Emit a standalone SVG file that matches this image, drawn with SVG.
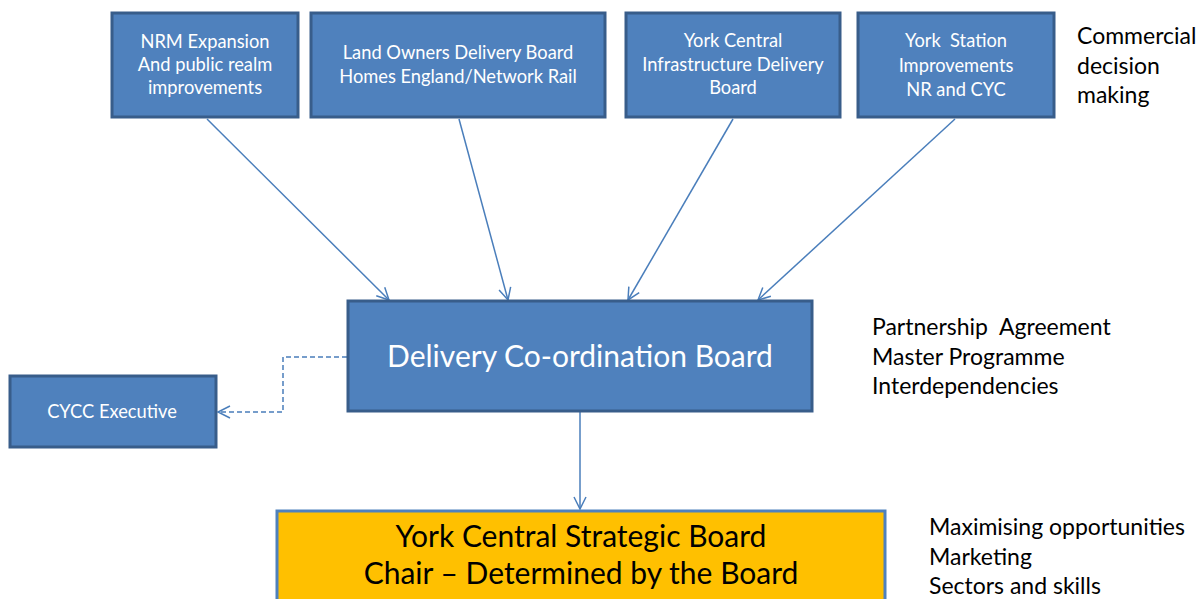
<svg xmlns="http://www.w3.org/2000/svg" width="1203" height="599" viewBox="0 0 1203 599">
<defs>
<style>
.box{fill:#4F81BD;stroke:#385D8A;stroke-width:3}
.gold{fill:#FFC000;stroke:#4F81BD;stroke-width:3}
.wt{fill:#FFFFFF;font-family:Lato,"Open Sans","Liberation Sans",sans-serif;text-anchor:middle}
.bt{fill:#000000;font-family:Lato,"Open Sans","Liberation Sans",sans-serif}
.s17{font-size:18.3px}
.s28{font-size:30px}
.side{font-size:23px}
.con{fill:none;stroke:#4A7EBB;stroke-width:1.5}
.dash{stroke-dasharray:5,3}
</style>
<marker id="arr" markerWidth="16" markerHeight="16" refX="14" refY="8" orient="auto" markerUnits="userSpaceOnUse">
<path d="M2,2 L14,8 L2,14" fill="none" stroke="#4A7EBB" stroke-width="1.5"/>
</marker>
</defs>
<rect width="1203" height="599" fill="#FFFFFF"/>
<g id="connectors">
<line class="con" x1="207" y1="119" x2="389" y2="300" marker-end="url(#arr)"/>
<line class="con" x1="459" y1="119" x2="508" y2="300" marker-end="url(#arr)"/>
<line class="con" x1="733" y1="119" x2="628" y2="300" marker-end="url(#arr)"/>
<line class="con" x1="955" y1="119" x2="758" y2="300" marker-end="url(#arr)"/>
<line class="con" x1="580" y1="412" x2="580" y2="509" marker-end="url(#arr)"/>
<polyline class="con dash" points="347,357 283,357 283,412 218,412" marker-end="url(#arr)"/>
</g>
<g id="nrm">
<rect class="box" x="112" y="13" width="186" height="104"/>
<text class="wt s17" x="205" y="48">NRM Expansion</text>
<text class="wt s17" x="205" y="71">And public realm</text>
<text class="wt s17" x="205" y="94">improvements</text>
</g>
<g id="landowners">
<rect class="box" x="311" y="13" width="294" height="104"/>
<text class="wt s17" x="458" y="59">Land Owners Delivery Board</text>
<text class="wt s17" x="458" y="83">Homes England/Network Rail</text>
</g>
<g id="infra">
<rect class="box" x="626" y="13" width="214" height="104"/>
<text class="wt s17" x="733" y="47">York Central</text>
<text class="wt s17" x="733" y="71">Infrastructure Delivery</text>
<text class="wt s17" x="733" y="94">Board</text>
</g>
<g id="station">
<rect class="box" x="858" y="13" width="196" height="104"/>
<text class="wt s17" x="956" y="47" xml:space="preserve">York  Station</text>
<text class="wt s17" x="956" y="72">Improvements</text>
<text class="wt s17" x="956" y="96">NR and CYC</text>
</g>
<g id="commercial">
<text class="bt side" x="1077" y="44">Commercial</text>
<text class="bt side" x="1077" y="74">decision</text>
<text class="bt side" x="1077" y="103">making</text>
</g>
<g id="dcb">
<rect class="box" x="348" y="301" width="464" height="110"/>
<text class="wt s28" x="580" y="367">Delivery Co-ordination Board</text>
</g>
<g id="partnership">
<text class="bt side" x="872" y="335" xml:space="preserve">Partnership  Agreement</text>
<text class="bt side" x="872" y="365">Master Programme</text>
<text class="bt side" x="872" y="394">Interdependencies</text>
</g>
<g id="cycc">
<rect class="box" x="10" y="376" width="206" height="71"/>
<text class="wt s17" x="112" y="418">CYCC Executive</text>
</g>
<g id="strategic">
<rect class="gold" x="277" y="511" width="608" height="95"/>
<text class="bt s28" x="581" y="547" text-anchor="middle">York Central Strategic Board</text>
<text class="bt s28" x="581" y="584" text-anchor="middle">Chair – Determined by the Board</text>
</g>
<g id="maximising">
<text class="bt side" x="929" y="535">Maximising opportunities</text>
<text class="bt side" x="929" y="565">Marketing</text>
<text class="bt side" x="929" y="594">Sectors and skills</text>
</g>
</svg>
